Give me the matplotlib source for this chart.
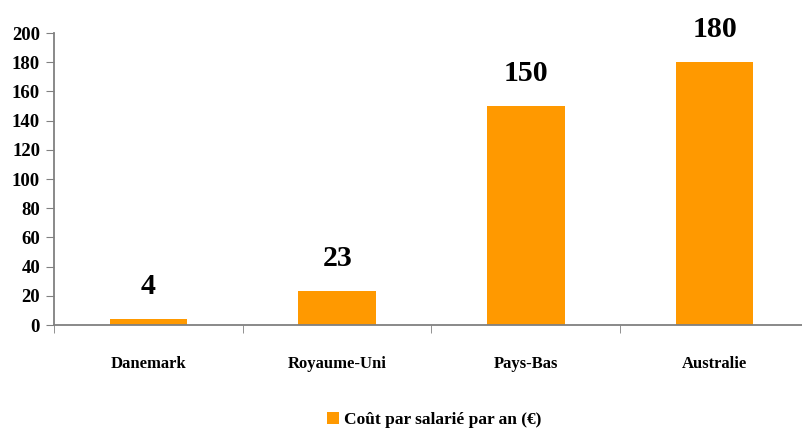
import matplotlib
matplotlib.use("Agg")
import matplotlib.pyplot as plt

categories = ["Danemark", "Royaume-Uni", "Pays-Bas", "Australie"]
values = [4, 23, 150, 180]
series_name = "Coût par salarié par an (€)"
yticks = [0, 20, 40, 60, 80, 100, 120, 140, 160, 180, 200]

plt.rcParams['font.family'] = ['Liberation Serif', 'DejaVu Serif']
plt.rcParams['font.weight'] = 'bold'

fig = plt.figure(figsize=(8.03, 4.32), dpi=100)
ax = fig.add_axes([54/803, 107/432, 755/803, 292/432])

color = "#FF9900"
x = list(range(len(categories)))
bars = ax.bar(x, values, width=0.41, color=color, zorder=2, label=series_name)

for xi, v in zip(x, values):
    ax.text(xi, v + 13, str(v), ha='center', va='bottom', fontsize=21.5, fontweight='bold')

ax.set_xlim(-0.5, len(categories) - 0.5)
ax.set_ylim(0, 200)
ax.set_yticks(yticks)
ax.set_yticklabels([str(t) for t in yticks], fontsize=13.5, fontweight='bold')

ax.set_xticks(x)
ax.set_xticklabels(categories, fontsize=12, fontweight='bold')
ax.tick_params(axis='x', length=0, pad=22)
ax.set_xticks([i + 0.5 for i in range(-1, len(categories))], minor=True)
ax.tick_params(axis='x', which='minor', length=6, color='#808080', direction='out')
ax.tick_params(axis='y', length=6, color='#808080', direction='out', pad=4)

for s in ['top', 'right']:
    ax.spines[s].set_visible(False)
for s in ['left', 'bottom']:
    ax.spines[s].set_color('#808080')
    ax.spines[s].set_linewidth(1.3)

leg = fig.legend(handles=[bars], labels=[series_name], loc='center',
                 bbox_to_anchor=(434/803, 1 - 420/432), frameon=False,
                 prop={'size': 12.5, 'weight': 'bold'}, handlelength=0.7,
                 handleheight=0.7, handletextpad=0.3)

fig.savefig("out.png", dpi=100)
